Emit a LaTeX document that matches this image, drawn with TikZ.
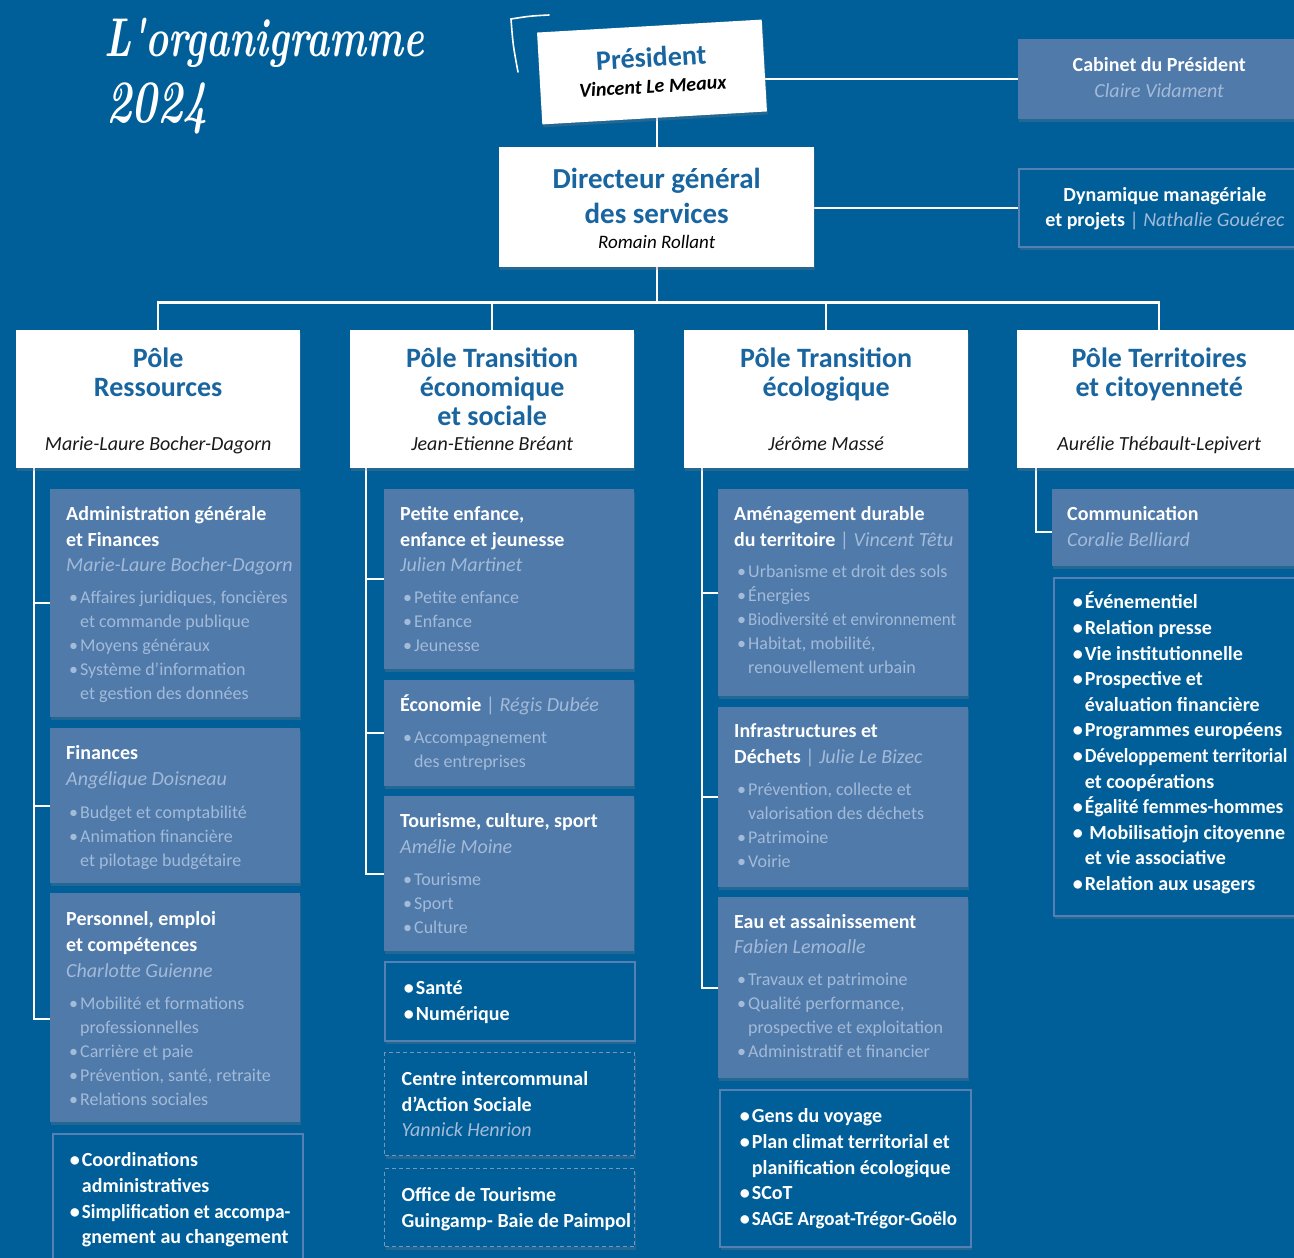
\documentclass[tikz,border=0pt]{standalone}
\usepackage{fontspec}
\usepackage{graphicx}
\setmainfont{Carlito}
\newfontfamily\lmfont{Latin Modern Roman}
\usetikzlibrary{shadows}
\pgfdeclarelayer{back}
\pgfsetlayers{back,main}

\definecolor{bg}{RGB}{0,95,153}
\definecolor{lbx}{RGB}{79,122,170}
\definecolor{lt}{RGB}{163,186,216}
\definecolor{bd}{RGB}{84,128,180}
\definecolor{dsh}{RGB}{118,150,192}
\definecolor{tb}{RGB}{24,101,160}

\newlength\bw \setlength\bw{12pt}
\newcommand\cb[4]{\begin{minipage}[t][#2pt][t]{#1pt}\raggedright\rightskip=0pt plus 1fil minus 300pt\relax\leftskip=#3pt\relax\parindent=0pt\relax\parskip=0pt\relax #4\end{minipage}}
\newcommand\ttl[2]{{\fontsize{20}{26}\selectfont\bfseries\color{white}\rule{0pt}{#1pt}#2\par}}
\newcommand\nm[2][25]{{\fontsize{20}{#1}\selectfont\itshape\color{lt}#2\par}}
\newcommand\bl[2][0]{\vspace{#1pt}{\let\\\newline\fontsize{18}{24}\selectfont\color{lt}\hangindent=14pt\hangafter=1\makebox[14pt][l]{\hspace{3pt}\textbullet}#2\par}}
\newcommand\bb[2][0]{{\let\\\newline\fontsize{20}{25.6}\selectfont\bfseries\color{white}\hangindent=\bw\hangafter=1\rule{0pt}{#1pt}\makebox[\bw][l]{\textbullet}#2\par}}
\newcommand\sep[1]{{\color{lt}\mdseries|\ \itshape #1}}
\newcommand\pole[2]{\begin{minipage}[t][138pt][t]{284pt}\centering{\fontsize{28}{29}\selectfont\bfseries\color{tb}\rule{0pt}{37pt}#1\par}\vfill{\fontsize{20}{24}\selectfont\itshape\color{black!90}#2\rule[-5pt]{0pt}{5pt}\par}\vspace*{13pt}\end{minipage}}

\begin{document}
\begin{tikzpicture}[x=1pt,y=-1pt,
  conn/.style={draw=white,line width=2.2pt},
  shd/.style={drop shadow={opacity=0.28,shadow xshift=1pt,shadow yshift=-3pt}},
  lbox/.style={fill=lbx,inner sep=0pt,anchor=north west,shd},
  obox/.style={fill=bg,draw=bd,line width=1.8pt,inner sep=0pt,anchor=north west,shd},
  dbox/.style={fill=bg,draw=dsh,line width=1.4pt,dash pattern=on 4pt off 3pt,inner sep=0pt,anchor=north west,shd},
  wbox/.style={fill=white,inner sep=0pt,shd},
]
\useasboundingbox (0,0) rectangle (1294,1258);
\begin{pgfonlayer}{back}
\fill[bg] (0,0) rectangle (1294,1258);
\end{pgfonlayer}
\clip (0,0) rectangle (1294,1258);

% title
\node[anchor=base west,inner sep=0pt,text=white] (ttlA) at (104,56) {\scalebox{1}[1.4]{\lmfont\bfseries\itshape\fontsize{39}{39}\selectfont L'organigramme}};
\node[anchor=base west,inner sep=0pt,text=white] (ttlB) at (106,122) {\scalebox{1}[1.4]{\lmfont\bfseries\itshape\fontsize{43}{43}\selectfont 2024}};
\draw[white,line width=1.6pt,line cap=round] (549,15) .. controls (530,16) .. (511,19) .. controls (513,45) .. (518,72);

% top
\node[wbox,rotate=3.3] (pres) at (652,72) {\begin{minipage}[t][92pt][t]{225pt}\centering{\fontsize{28}{28}\selectfont\bfseries\color{tb}\rule{0pt}{41pt}Président\par}{\fontsize{20}{26}\selectfont\bfseries\itshape Vincent Le Meaux\par}\end{minipage}};
\node[wbox,anchor=north west] (dg) at (499,147) {\begin{minipage}[t][120pt][t]{315pt}\centering{\fontsize{29}{35}\selectfont\bfseries\color{tb}\rule{0pt}{41pt}Directeur général\\des services\par}{\fontsize{19}{25}\selectfont\itshape Romain Rollant\par}\end{minipage}};
\node[lbox] (cab) at (1018,39) {\begin{minipage}[t][80pt][t]{282pt}\centering{\fontsize{20}{26}\selectfont\bfseries\color{white}\rule{0pt}{32pt}Cabinet du Président\par}{\fontsize{20}{26}\selectfont\itshape\color{lt}Claire Vidament\par}\end{minipage}};
\node[obox] (dyn) at (1018,168) {\begin{minipage}[t][78pt][t]{292pt}\centering{\fontsize{20}{25}\selectfont\bfseries\color{white}\rule{0pt}{33pt}Dynamique managériale\\et projets \sep{Nathalie Gouérec}\par}\end{minipage}};

% poles
\node[wbox,anchor=north west] (p1) at (16,330) {\pole{Pôle\\Ressources}{Marie-Laure Bocher-Dagorn}};
\node[wbox,anchor=north west] (p2) at (350,330) {\pole{Pôle Transition\\économique\\et sociale}{Jean-Etienne Bréant}};
\node[wbox,anchor=north west] (p3) at (684,330) {\pole{Pôle Transition\\écologique}{Jérôme Massé}};
\node[wbox,anchor=north west] (p4) at (1017,330) {\pole{Pôle Territoires\\et citoyenneté}{Aurélie Thébault-Lepivert}};

% column 1
\node[lbox] (b11) at (50,489) {\cb{250}{228}{16}{%
  \ttl{31}{Administration générale\\et Finances}
  \nm{Marie-Laure Bocher-Dagorn}
  \bl[8]{Affaires juridiques, foncières\\et commande publique}
  \bl{Moyens généraux}
  \bl{Système d’information\\et gestion des données}}};
\node[lbox] (b12) at (50,728) {\cb{250}{155}{16}{%
  \ttl{31}{Finances}
  \nm[26]{Angélique Doisneau}
  \bl[9]{Budget et comptabilité}
  \bl{Animation financière\\et pilotage budgétaire}}};
\node[lbox] (b13) at (50,893) {\cb{250}{229}{16}{%
  \ttl{32}{Personnel, emploi\\et compétences}
  \nm[26]{Charlotte Guienne}
  \bl[8]{Mobilité et formations\\professionnelles}
  \bl{Carrière et paie}
  \bl{Prévention, santé, retraite}
  \bl{Relations sociales}}};
\node[obox] (b14) at (52,1133) {\cb{250}{150}{17}{\setlength\bw{12pt}%
  \bb[33]{Coordinations\\administratives}
  \bb{\scalebox{0.95}[1]{Simplification et accompa-}\\gnement au changement}}};

% column 2
\node[lbox] (b21) at (384,489) {\cb{250}{180}{16}{%
  \ttl{31}{Petite enfance,\\enfance et jeunesse}
  \nm{Julien Martinet}
  \bl[8]{Petite enfance}
  \bl{Enfance}
  \bl{Jeunesse}}};
\node[lbox] (b22) at (384,680) {\cb{250}{106}{16}{%
  \ttl{31}{Économie \sep{Régis Dubée}}
  \bl[8]{Accompagnement\\des entreprises}}};
\node[lbox] (b23) at (384,796) {\cb{250}{155}{16}{%
  \ttl{31}{Tourisme, culture, sport}
  \nm[26]{Amélie Moine}
  \bl[8]{Tourisme}
  \bl{Sport}
  \bl{Culture}}};
\node[obox] (b24) at (384,961) {\cb{250}{79}{19}{%
  \bb[33]{Santé}
  \bb{Numérique}}};
\node[dbox] (b25) at (384,1052) {\cb{250}{103}{17}{%
  \ttl{33}{Centre intercommunal\\d’Action Sociale}
  \nm{Yannick Henrion}}};
\node[dbox] (b26) at (384,1168) {\cb{250}{78}{17}{%
  \ttl{33}{Office de Tourisme\\Guingamp- Baie de Paimpol}}};

% column 3
\node[lbox] (b31) at (718,489) {\cb{250}{207}{16}{%
  \ttl{31}{Aménagement durable\\du territoire \sep{Vincent Têtu}}
  \bl[7]{Urbanisme et droit des sols}
  \bl{Énergies}
  \bl{\scalebox{0.94}[1]{Biodiversité et environnement}}
  \bl{Habitat, mobilité,\\renouvellement urbain}}};
\node[lbox] (b32) at (718,707) {\cb{250}{180}{16}{%
  \ttl{30}{Infrastructures et\\Déchets \sep{Julie Le Bizec}}
  \bl[8]{Prévention, collecte et\\valorisation des déchets}
  \bl{Patrimoine}
  \bl{Voirie}}};
\node[lbox] (b33) at (718,897) {\cb{250}{181}{16}{%
  \ttl{31}{Eau et assainissement}
  \nm{Fabien Lemoalle}
  \bl[8]{Travaux et patrimoine}
  \bl{Qualité performance,\\prospective et exploitation}
  \bl{Administratif et financier}}};
\node[obox] (b34) at (719,1089) {\cb{251}{157}{20}{%
  \bb[33]{Gens du voyage}
  \bb{Plan climat territorial et\\planification écologique}
  \bb{SCoT}
  \bb{\scalebox{0.95}[1]{SAGE Argoat-Trégor-Goëlo}}}};

% column 4
\node[lbox] (b41) at (1052,489) {\cb{260}{77}{15}{%
  \ttl{31}{Communication}
  \nm[26]{Coralie Belliard}}};
\node[obox] (b42) at (1053,577) {\cb{260}{338}{19}{%
  \bb[31]{Événementiel}
  \bb{Relation presse}
  \bb{Vie institutionnelle}
  \bb{Prospective et\\évaluation financière}
  \bb{Programmes européens}
  \bb{\scalebox{0.93}[1]{Développement territorial}\\et coopérations}
  \bb{\scalebox{0.97}[1]{Égalité femmes-hommes}}
  \bb{\ Mobilisatiojn citoyenne\\et vie associative}
  \bb{Relation aux usagers}}};

% connectors
\begin{pgfonlayer}{back}
\draw[conn] (pres.south -| dg.north) -- (dg.north);
\draw[conn] (pres.east |- cab.west) -- (cab.west);
\draw[conn] (dyn.west -| dg.east) -- (dyn.west);
\coordinate (bus) at ([yshift=-35pt]dg.south);
\draw[conn] (dg.south) -- (bus);
\draw[conn] (p1.north) |- (bus) -| (p4.north);
\draw[conn] (p2.north) -- (p2.north |- bus);
\draw[conn] (p3.north) -- (p3.north |- bus);
\coordinate (c1) at ([xshift=18pt]p1.south west);
\draw[conn] (c1) |- ([yshift=-11pt]b13.west);
\draw[conn] (b11.west -| c1) -- (b11.west);
\draw[conn] (b12.west -| c1) -- (b12.west);
\coordinate (c2) at ([xshift=16pt]p2.south west);
\draw[conn] (c2) |- (b23.west);
\draw[conn] (b21.west -| c2) -- (b21.west);
\draw[conn] (b22.west -| c2) -- (b22.west);
\coordinate (c3) at ([xshift=18pt]p3.south west);
\draw[conn] (c3) |- (b33.west);
\draw[conn] (b31.west -| c3) -- (b31.west);
\draw[conn] (b32.west -| c3) -- (b32.west);
\coordinate (c4) at ([xshift=19pt]p4.south west);
\draw[conn] (c4) |- ([yshift=-4pt]b41.west);
\end{pgfonlayer}
\end{tikzpicture}
\end{document}
